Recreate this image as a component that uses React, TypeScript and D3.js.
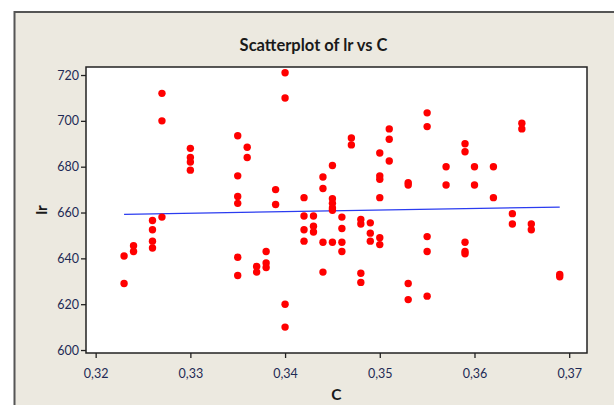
import React, { useRef, useEffect } from "react";
import * as d3 from "d3";

// values (C on x, lr on y)
const cValues = [
  0.323, 0.323,
  0.324, 0.324,
  0.326, 0.326, 0.326, 0.326,
  0.327, 0.327, 0.327,
  0.33, 0.33, 0.33, 0.33,
  0.335, 0.335, 0.335, 0.335, 0.335, 0.335,
  0.336, 0.336,
  0.337, 0.337,
  0.338, 0.338, 0.338,
  0.339, 0.339,
  0.34, 0.34, 0.34, 0.34,
  0.342, 0.342, 0.342, 0.342,
  0.343, 0.343, 0.343,
  0.344, 0.344, 0.344, 0.344,
  0.345, 0.345, 0.345, 0.345, 0.345, 0.345,
  0.346, 0.346, 0.346, 0.346,
  0.347, 0.347,
  0.348, 0.348, 0.348, 0.348,
  0.349, 0.349, 0.349,
  0.35, 0.35, 0.35, 0.35, 0.35, 0.35,
  0.351, 0.351, 0.351,
  0.353, 0.353, 0.353, 0.353,
  0.355, 0.355, 0.355, 0.355, 0.355,
  0.357, 0.357,
  0.359, 0.359, 0.359, 0.359, 0.359,
  0.36, 0.36,
  0.362, 0.362,
  0.364, 0.364,
  0.365, 0.365,
  0.366, 0.366,
  0.369, 0.369,
];

const lrValues = [
  641, 629,
  645.5, 643,
  656.5, 652.5, 647.5, 644.5,
  712, 700, 658,
  688, 684, 682, 678.5,
  693.5, 676, 667, 664, 640.5, 632.5,
  688.5, 684,
  636.5, 634,
  643, 638, 636,
  670, 663.5,
  721, 710, 620, 610,
  666.5, 658.5, 652.5, 647.5,
  658.5, 654, 651.5,
  675.5, 670.5, 647, 634,
  680.5, 666, 664, 662, 661, 647,
  658, 653, 647, 643,
  692.5, 689.5,
  657, 655, 633.5, 629.5,
  655.5, 651, 647.5,
  686, 676, 674.5, 666.5, 649, 646,
  696.5, 692, 682.5,
  673, 672, 629, 622,
  703.5, 697.5, 649.5, 643, 623.5,
  680, 672,
  690, 686.5, 647, 643, 642,
  680, 672,
  680, 666.5,
  659.5, 655,
  699, 696.5,
  655, 652.5,
  633, 632,
];

const xTicks = [0.32, 0.33, 0.34, 0.35, 0.36, 0.37];
const yTicks = [600, 620, 640, 660, 680, 700, 720];

// fitted line lr = a + b*C
const fitIntercept = 636.7;
const fitSlope = 69.6;

export default function App() {
  const chartRef = useRef<SVGSVGElement>(null);

  useEffect(() => {
    drawChart();
  }, []);

  const drawChart = () => {
    const width = 614;
    const height = 405;
    const plot = { left: 86, right: 587, top: 67, bottom: 353 };
    const font = "Lato, 'Open Sans', sans-serif";

    const x = d3
      .scaleLinear()
      .domain([0.31898, 0.37188])
      .range([plot.left, plot.right]);

    const y = d3
      .scaleLinear()
      .domain([598.7, 723.5])
      .range([plot.bottom, plot.top]);

    const svg = d3.select(chartRef.current);
    svg.selectAll("*").remove();
    svg.attr("width", width).attr("height", height);

    svg.append("rect").attr("width", width).attr("height", height).attr("fill", "#ffffff");

    // outer panel
    svg
      .append("rect")
      .attr("x", 14.5)
      .attr("y", 12)
      .attr("width", width + 20)
      .attr("height", height + 20)
      .attr("fill", "#ece9e0")
      .attr("stroke", "#555555")
      .attr("stroke-width", 2);

    // plot area
    svg
      .append("rect")
      .attr("x", plot.left)
      .attr("y", plot.top)
      .attr("width", plot.right - plot.left)
      .attr("height", plot.bottom - plot.top)
      .attr("fill", "#ffffff")
      .attr("stroke", "#222222")
      .attr("stroke-width", 1.5);

    // title
    svg
      .append("text")
      .attr("x", (plot.left + plot.right) / 2 - 23)
      .attr("y", 51)
      .attr("text-anchor", "middle")
      .attr("font-family", font)
      .attr("font-weight", "bold")
      .attr("font-size", 16.5)
      .attr("fill", "#1a1a1a")
      .text("Scatterplot of lr vs C");

    // x axis
    const xAxis = svg
      .append("g")
      .attr("transform", `translate(0, ${plot.bottom})`)
      .call(
        d3
          .axisBottom(x)
          .tickValues(xTicks)
          .tickSize(5)
          .tickFormat((d) => d3.format(".2f")(d as number).replace(".", ","))
      );
    xAxis.select(".domain").remove();
    xAxis.selectAll("line").attr("stroke", "#222222").attr("stroke-width", 1.3);
    xAxis
      .selectAll("text")
      .attr("font-family", font)
      .attr("font-size", 12.5)
      .attr("fill", "#1e2a55")
      .attr("y", 14)
      .attr("dy", "0.85em");

    // y axis
    const yAxis = svg
      .append("g")
      .attr("transform", `translate(${plot.left}, 0)`)
      .call(d3.axisLeft(y).tickValues(yTicks).tickSize(5));
    yAxis.select(".domain").remove();
    yAxis.selectAll("line").attr("stroke", "#222222").attr("stroke-width", 1.3);
    yAxis
      .selectAll("text")
      .attr("font-family", font)
      .attr("font-size", 12.5)
      .attr("fill", "#1e2a55")
      .attr("x", -7);

    // axis labels
    svg
      .append("text")
      .attr("x", (plot.left + plot.right) / 2)
      .attr("y", 400)
      .attr("text-anchor", "middle")
      .attr("font-family", font)
      .attr("font-weight", "bold")
      .attr("font-size", 15.5)
      .attr("fill", "#1a1a1a")
      .text("C");

    svg
      .append("text")
      .attr("transform", `translate(47, ${(plot.top + plot.bottom) / 2}) rotate(-90)`)
      .attr("text-anchor", "middle")
      .attr("font-family", font)
      .attr("font-weight", "bold")
      .attr("font-size", 15.5)
      .attr("fill", "#1a1a1a")
      .text("lr");

    // regression line over the range of C
    const [cMin, cMax] = d3.extent(cValues) as [number, number];
    const line = d3
      .line<number>()
      .x((d) => x(d))
      .y((d) => y(fitIntercept + fitSlope * d));

    svg
      .append("path")
      .datum([cMin, cMax])
      .attr("fill", "none")
      .attr("stroke", "#2b3cf0")
      .attr("stroke-width", 1.3)
      .attr("d", line);

    // points
    svg
      .append("g")
      .selectAll("circle")
      .data(cValues.map((c, i) => [c, lrValues[i]]))
      .enter()
      .append("circle")
      .attr("cx", (d) => x(d[0]))
      .attr("cy", (d) => y(d[1]))
      .attr("r", 3.7)
      .attr("fill", "#ff0000");
  };

  return (
    <div style={{ position: "absolute", left: 0, top: 0 }}>
      <svg ref={chartRef} />
    </div>
  );
}
